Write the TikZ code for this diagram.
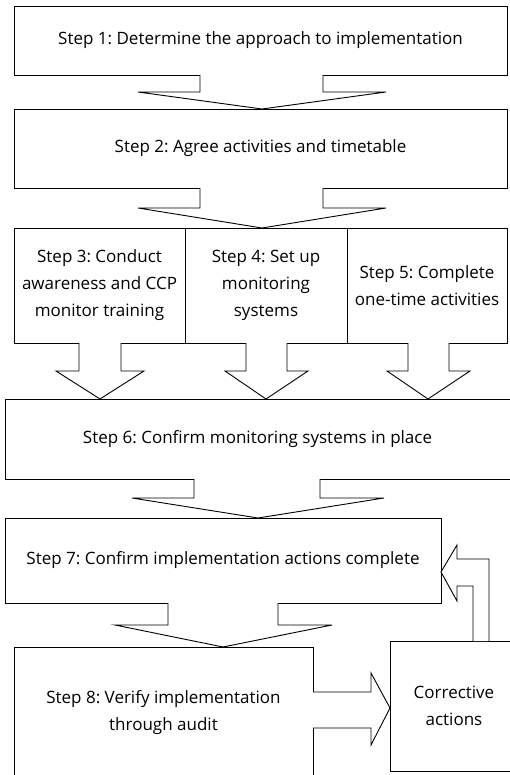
\documentclass[tikz,border=0pt]{standalone}
\usepackage{fontspec}
\setmainfont{Open Sans}
\frenchspacing
\begin{document}
\begin{tikzpicture}[x=1pt,y=-1pt,
  box/.style={draw,line width=0.9pt,fill=white,inner sep=0pt,outer sep=0pt,
    anchor=north west,align=center,font=\fontsize{17}{27}\selectfont},
  arrowshape/.style={draw,line width=0.9pt,fill=white,line join=miter}]
\useasboundingbox (0,0) rectangle (509,775);

% process steps
\node[box,minimum width=493pt,minimum height=69pt] (b1) at (14,6)
  {Step 1: Determine the approach to implementation};
\node[box,minimum width=493pt,minimum height=79pt] (b2) at (14,109)
  {Step 2: Agree activities and timetable};
\node[box,minimum width=171pt,minimum height=115pt] (b3) at (14,228)
  {Step 3: Conduct\\awareness and CCP\\monitor training};
\node[box,minimum width=162pt,minimum height=115pt] (b4) at (185,228)
  {Step 4: Set up\\monitoring\\systems};
\node[box,minimum width=160pt,minimum height=115pt] (b5) at (347,228)
  {Step 5: Complete\\one-time activities};
\node[box,minimum width=505pt,minimum height=80pt] (b6) at (5,399)
  {Step 6: Confirm monitoring systems in place};
\node[box,minimum width=436pt,minimum height=85pt] (b7) at (5,518)
  {Step 7: Confirm implementation actions complete};
\node[box,minimum width=299pt,minimum height=131pt] (b8) at (14,647)
  {Step 8: Verify implementation\\through audit};
\node[box,minimum width=128pt,minimum height=130pt] (ca) at (390,641)
  {Corrective\\actions};

% block arrow pointing down: from, to, shaft left/right, wing left/right, tip x, head base y
\newcommand{\blockdown}[8]{%
  \draw[arrowshape] (#3,0 |- #1.south) -- (#3,#8) -- (#5,#8) -- (#7,0 |- #2.north)
    -- (#6,#8) -- (#4,#8) -- (#4,0 |- #1.south);}

\blockdown{b1}{b2}{200}{323}{138}{386}{262}{92}
\blockdown{b2}{b3}{200}{323}{138}{386}{262}{208}
\blockdown{b3}{b6}{79}{121}{56}{144}{100}{371}
\blockdown{b4}{b6}{246}{287}{225}{308}{266}{371}
\blockdown{b5}{b6}{408}{449}{387}{470}{428}{371}
\blockdown{b6}{b7}{194}{320}{132}{384}{258}{498}
\blockdown{b7}{b8}{168}{278}{115}{332}{223}{625}

% audit to corrective actions
\draw[arrowshape] (b8.east |- 0,692) -- (371,692) -- (371,673) -- (ca.west |- 0,708)
  -- (371,745) -- (371,728) -- (b8.east |- 0,728);

% corrective actions back to step 7
\draw[arrowshape] (489,0 |- ca.north) -- (489,559) -- (457,559) -- (457,545)
  -- (b7.east |- 0,572) -- (457,601) -- (457,586) -- (473,586) -- (473,0 |- ca.north);
\end{tikzpicture}
\end{document}
